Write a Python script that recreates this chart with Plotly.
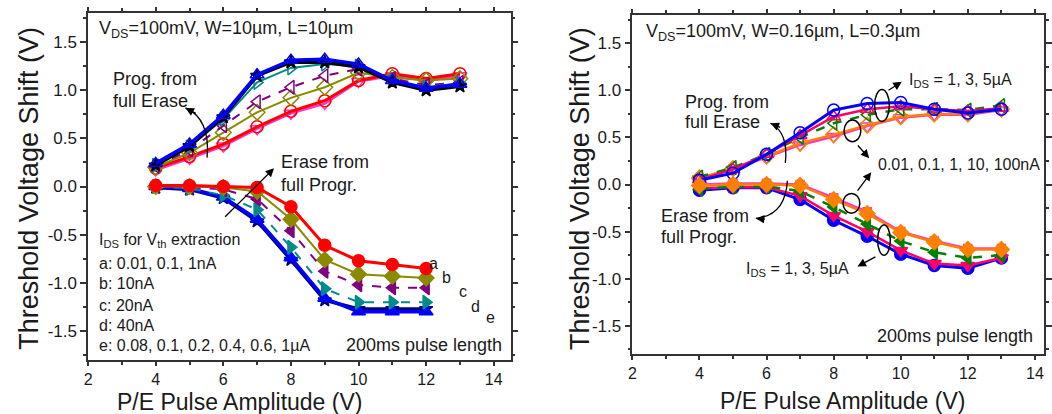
import plotly.graph_objects as go

# ---------------- data ----------------
x_prog_L = [4, 5, 6, 7, 8, 9, 10, 11, 12, 13]
x_erase_L = [4, 5, 6, 7, 8, 9, 10, 11, 12]

progL_a_pink = [0.17, 0.29, 0.42, 0.60, 0.76, 0.86, 1.09, 1.15, 1.10, 1.15]
progL_a_red = [0.19, 0.31, 0.44, 0.62, 0.78, 0.89, 1.10, 1.17, 1.12, 1.17]
progL_b = [0.20, 0.35, 0.56, 0.77, 0.92, 1.03, 1.18, 1.13, 1.10, 1.12]
progL_c = [0.21, 0.38, 0.63, 0.88, 1.03, 1.15, 1.22, 1.12, 1.05, 1.08]
progL_d = [0.22, 0.41, 0.70, 1.08, 1.23, 1.27, 1.25, 1.10, 1.03, 1.07]
progL_e_black = [0.22, 0.42, 0.72, 1.15, 1.29, 1.29, 1.24, 1.08, 1.00, 1.04]
progL_e_blue = [0.24, 0.44, 0.74, 1.16, 1.31, 1.32, 1.27, 1.10, 1.02, 1.06]

eraL_a = [0.01, 0.01, 0.00, -0.01, -0.21, -0.61, -0.77, -0.81, -0.85]
eraL_b = [0.00, 0.00, -0.01, -0.05, -0.34, -0.76, -0.91, -0.93, -0.95]
eraL_c = [0.00, -0.01, -0.03, -0.13, -0.46, -0.88, -1.02, -1.05, -1.05]
eraL_d = [0.00, -0.02, -0.09, -0.24, -0.63, -1.06, -1.20, -1.20, -1.20]
eraL_e_navy = [-0.01, -0.03, -0.12, -0.36, -0.76, -1.18, -1.27, -1.27, -1.27]
eraL_e_blue = [0.00, -0.02, -0.11, -0.34, -0.74, -1.16, -1.30, -1.30, -1.30]

x_R = [4, 5, 6, 7, 8, 9, 10, 11, 12, 13]
progR_magenta = [0.06, 0.16, 0.29, 0.42, 0.51, 0.62, 0.71, 0.74, 0.74, 0.79]
progR_orange = [0.07, 0.17, 0.30, 0.44, 0.53, 0.63, 0.72, 0.75, 0.75, 0.80]
progR_green = [0.08, 0.18, 0.32, 0.50, 0.65, 0.74, 0.80, 0.80, 0.79, 0.84]
progR_pink = [0.05, 0.16, 0.32, 0.52, 0.72, 0.80, 0.83, 0.80, 0.78, 0.81]
progR_blue = [0.045, 0.12, 0.32, 0.55, 0.79, 0.86, 0.87, 0.80, 0.76, 0.80]

eraR_magenta = [0.00, 0.01, 0.01, 0.00, -0.14, -0.29, -0.50, -0.60, -0.68, -0.68]
eraR_orange = [-0.01, 0.00, 0.00, -0.01, -0.16, -0.31, -0.51, -0.61, -0.69, -0.69]
eraR_green = [-0.05, -0.02, -0.02, -0.07, -0.24, -0.42, -0.60, -0.72, -0.78, -0.75]
eraR_pink = [-0.04, -0.03, -0.03, -0.12, -0.33, -0.50, -0.70, -0.84, -0.86, -0.78]
eraR_blue = [-0.06, -0.035, -0.035, -0.16, -0.38, -0.55, -0.74, -0.86, -0.89, -0.78]

x_tickvals = [2, 4, 6, 8, 10, 12, 14]
x_ticktext = ["2", "4", "6", "8", "10", "12", "14"]
y_tickvals = [-1.5, -1.0, -0.5, 0.0, 0.5, 1.0, 1.5]
y_ticktext = ["-1.5", "-1.0", "-0.5", "0.0", "0.5", "1.0", "1.5"]

FONT = "Arial, Liberation Sans, sans-serif"
TXT = "#1a1a1a"

fig = go.Figure()


def add(x, y, color, symbol, xa="x", ya="y", width=2.5, dash="solid", size=12):
    fig.add_trace(go.Scatter(
        x=x, y=y, xaxis=xa, yaxis=ya, mode="lines+markers",
        line=dict(color=color, width=width, dash=dash),
        marker=dict(symbol=symbol, size=size, color=color,
                    line=dict(color=color, width=1.5)),
        showlegend=False, hoverinfo="skip"))


# left: program (open markers)
add(x_prog_L, progL_a_pink, "#ff33cc", "triangle-down-open")
add(x_prog_L, progL_a_red, "#ff0000", "circle-open", width=3)
add(x_prog_L, progL_b, "#8a8a00", "diamond-open", width=2)
add(x_prog_L, progL_c, "#800080", "triangle-left-open", width=2, dash="dash")
add(x_prog_L, progL_d, "#008b8b", "triangle-right-open", width=2)
add(x_prog_L, progL_e_black, "#000000", "star", width=3.5, size=10)
add(x_prog_L, progL_e_blue, "#0000ff", "triangle-up-open", width=3.5)

# left: erase (filled markers)
add(x_erase_L, eraL_e_navy, "#000080", "star", width=3.5, size=10)
add(x_erase_L, eraL_e_blue, "#0000ff", "triangle-up", width=3.5)
add(x_erase_L, eraL_d, "#008b8b", "triangle-right", width=2, dash="dash")
add(x_erase_L, eraL_c, "#800080", "triangle-left", width=2, dash="dash")
add(x_erase_L, eraL_b, "#8a8a00", "diamond", width=2)
add(x_erase_L, eraL_a, "#ff0000", "circle", width=3)

# right: program
add(x_R, progR_magenta, "#ff33cc", "triangle-down-open", "x2", "y2")
add(x_R, progR_orange, "#ff8000", "diamond-open", "x2", "y2")
add(x_R, progR_green, "#008000", "triangle-left-open", "x2", "y2", dash="dash")
add(x_R, progR_pink, "#ff0066", "triangle-up-open", "x2", "y2")
add(x_R, progR_blue, "#0000ff", "circle-open", "x2", "y2", width=3)

# right: erase
add(x_R, eraR_blue, "#0000ff", "circle", "x2", "y2", width=3)
add(x_R, eraR_pink, "#ff0066", "triangle-down", "x2", "y2")
add(x_R, eraR_green, "#008000", "triangle-left", "x2", "y2", dash="dash")
add(x_R, eraR_magenta, "#ff33cc", "square", "x2", "y2", size=8)
add(x_R, eraR_orange, "#ff8000", "diamond", "x2", "y2")


def xaxis(domain, rng):
    return dict(domain=domain, range=rng, tickvals=x_tickvals, ticktext=x_ticktext,
                ticks="outside", ticklen=4, tickwidth=1.5, tickcolor="#333",
                minor=dict(dtick=1, tick0=2, ticklen=3, ticks="outside", tickcolor="#333"),
                showline=True, linecolor="#333", linewidth=1.5, mirror="ticks",
                showgrid=False, zeroline=False,
                tickfont=dict(size=16, color=TXT, family=FONT))


def yaxis(domain, anchor):
    return dict(domain=domain, range=[-1.8, 1.8], tickvals=y_tickvals, ticktext=y_ticktext,
                anchor=anchor,
                ticks="outside", ticklen=6, tickwidth=1.5, tickcolor="#333",
                minor=dict(dtick=0.25, tick0=0, ticklen=3, ticks="outside", tickcolor="#333"),
                showline=True, linecolor="#333", linewidth=1.5, mirror="ticks",
                showgrid=False, zeroline=False,
                tickfont=dict(size=17, color=TXT, family=FONT))


xa1 = xaxis([85 / 1052, 512 / 1052], [2, 14.5])
xa1["anchor"] = "y"
xa2 = xaxis([635 / 1052, 1051 / 1052], [2, 14.27])
xa2["anchor"] = "y2"
ya1 = yaxis([1 - 360 / 414, 1 - 13 / 414], "x")
ya2 = yaxis([1 - 354 / 414, 1 - 15 / 414], "x2")

ann = []


def txt(x, y, s, size=18, xref="x", yref="y", xanchor="left", yanchor="middle", angle=0):
    ann.append(dict(x=x, y=y, xref=xref, yref=yref, text=s, showarrow=False,
                    xanchor=xanchor, yanchor=yanchor, textangle=angle,
                    font=dict(size=size, color=TXT, family=FONT)))


def arrow(x0, y0, x1, y1, xr="x", yr="y"):
    ann.append(dict(x=x1, y=y1, ax=x0, ay=y0, xref=xr, yref=yr, axref=xr, ayref=yr,
                    text="", showarrow=True, arrowhead=2, arrowsize=1.3,
                    arrowwidth=1.3, arrowcolor="#000",
                    font=dict(size=12, color=TXT, family=FONT)))


# axis titles
txt(25 / 1052, 1 - 188 / 414, "Threshold Voltage Shift (V)", 27, "paper", "paper", "center", "middle", -90)
txt(582 / 1052, 1 - 188 / 414, "Threshold Voltage Shift (V)", 27, "paper", "paper", "center", "middle", -90)
txt(238 / 1052, -0.008, "P/E Pulse Amplitude (V)", 23, "paper", "paper", "center", "bottom")
txt(847 / 1052, -0.004, "P/E Pulse Amplitude (V)", 23, "paper", "paper", "center", "bottom")

# left texts
txt(2.25, 1.63, "V<sub>DS</sub>=100mV, W=10µm, L=10µm", 18)
txt(2.69, 1.12, "Prog. from", 18)
txt(2.69, 0.89, "full Erase", 18)
txt(7.65, 0.25, "Erase from", 18)
txt(7.65, 0.02, "full Progr.", 18)
txt(2.25, -0.56, "I<sub>DS</sub> for V<sub>th</sub> extraction", 16)
txt(2.25, -0.80, "a: 0.01, 0.1, 1nA", 16)
txt(2.25, -1.01, "b: 10nA", 16)
txt(2.25, -1.23, "c: 20nA", 16)
txt(2.25, -1.44, "d: 40nA", 16)
txt(2.25, -1.65, "e: 0.08, 0.1, 0.2, 0.4, 0.6, 1µA", 16)
txt(14.3, -1.64, "200ms pulse length", 18, xanchor="right")
for lx, ly, lt in [(12.23, -0.80, "a"), (12.6, -0.94, "b"), (13.1, -1.09, "c"),
                   (13.46, -1.24, "d"), (13.9, -1.36, "e")]:
    txt(lx, ly, lt, 16, xanchor="center")

arrow(6.01, -0.33, 7.50, 0.19)
arrow(5.23, 0.75, 4.88, 0.815)

# right texts
txt(2.35, 1.61, "V<sub>DS</sub>=100mV, W=0.16µm, L=0.3µm", 18, "x2", "y2")
txt(3.5, 0.88, "Prog. from", 18, "x2", "y2")
txt(3.5, 0.66, "full Erase", 18, "x2", "y2")
txt(2.79, -0.33, "Erase from", 18, "x2", "y2")
txt(2.79, -0.56, "full Progr.", 18, "x2", "y2")
txt(10.18, 1.10, "I<sub>DS</sub> = 1, 3, 5µA", 16, "x2", "y2")
txt(9.26, 0.21, "0.01, 0.1, 1, 10, 100nA", 16, "x2", "y2")
txt(5.32, -0.90, "I<sub>DS</sub> = 1, 3, 5µA", 16, "x2", "y2")
txt(14.0, -1.61, "200ms pulse length", 18, "x2", "y2", xanchor="right")

arrow(9.59, 0.99, 10.03, 1.09, "x2", "y2")
arrow(8.68, 0.43, 9.06, 0.28, "x2", "y2")
arrow(8.68, -0.08, 9.12, 0.13, "x2", "y2")
arrow(9.29, -0.76, 8.71, -0.87, "x2", "y2")
arrow(6.45, 0.60, 6.12, 0.65, "x2", "y2")
arrow(6.0, -0.37, 5.68, -0.36, "x2", "y2")

shapes = []
# curved arrow bodies
shapes.append(dict(type="path", xref="x", yref="y",
                   path="M 5.52,0.30 Q 5.62,0.70 4.88,0.815",
                   line=dict(color="#000", width=1.3)))
shapes.append(dict(type="path", xref="x2", yref="y2",
                   path="M 6.56,0.23 Q 6.66,0.55 6.12,0.65",
                   line=dict(color="#000", width=1.3)))
shapes.append(dict(type="path", xref="x2", yref="y2",
                   path="M 6.62,0.04 Q 6.56,-0.33 5.68,-0.36",
                   line=dict(color="#000", width=1.3)))
# ellipses
for cx, cy, hw, hh in [(9.44, 0.84, 0.22, 0.17), (8.56, 0.57, 0.25, 0.115),
                       (8.53, -0.20, 0.25, 0.105), (9.50, -0.59, 0.19, 0.16)]:
    shapes.append(dict(type="circle", xref="x2", yref="y2",
                       x0=cx - hw, x1=cx + hw, y0=cy - hh, y1=cy + hh,
                       line=dict(color="#000", width=1.5)))

fig.update_layout(
    width=1052, height=414,
    margin=dict(l=0, r=0, t=0, b=0),
    paper_bgcolor="white", plot_bgcolor="white",
    font=dict(family=FONT, color=TXT),
    xaxis=xa1, yaxis=ya1, xaxis2=xa2, yaxis2=ya2,
    annotations=ann, shapes=shapes, showlegend=False,
)

fig.write_html(
    "out.html",
    config={"displayModeBar": False},
    post_script="document.body.style.margin='0px';document.body.style.overflow='hidden';",
)
